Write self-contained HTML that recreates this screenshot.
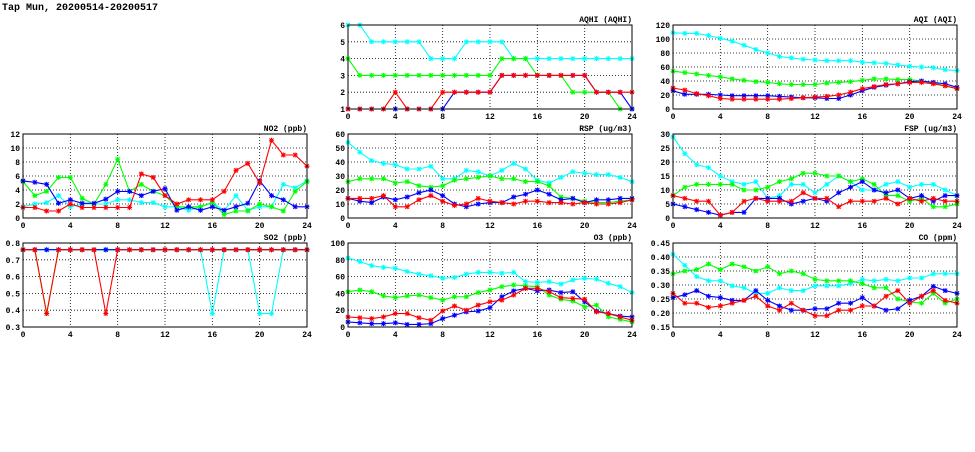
<!DOCTYPE html>
<html><head><meta charset="utf-8"><style>
body{margin:0;background:#fff;width:975px;height:447px;overflow:hidden}
svg{font-family:"Liberation Mono","DejaVu Sans Mono",monospace}
</style></head><body>
<svg id="chart" width="975" height="447" viewBox="0 0 975 447" xmlns="http://www.w3.org/2000/svg">
<text x="2" y="10" font-size="10" font-weight="bold">Tap Mun, 20200514-20200517</text>
</svg>
<script>
const hours=[0,1,2,3,4,5,6,7,8,9,10,11,12,13,14,15,16,17,18,19,20,21,22,23,24];
const xTicks=[0,4,8,12,16,20,24];
const seriesColors=["#00ffff","#00ff00","#0000ff","#ff0000"];
const seriesNames=["cyan","green","blue","red"];

const aqhiTicks=[1,2,3,4,5,6];
const aqhiCyan=[6,6,5,5,5,5,5,4,4,4,5,5,5,5,4,4,4,4,4,4,4,4,4,4,4];
const aqhiGreen=[4,3,3,3,3,3,3,3,3,3,3,3,3,4,4,4,3,3,3,2,2,2,2,1,1];
const aqhiBlue=[1,1,1,1,1,1,1,1,1,2,2,2,2,3,3,3,3,3,3,3,3,2,2,2,1];
const aqhiRed=[1,1,1,1,2,1,1,1,2,2,2,2,2,3,3,3,3,3,3,3,3,2,2,2,2];

const aqiTicks=[0,20,40,60,80,100,120];
const aqiCyan=[109,108,108,105,101,97,91,85,80,75,73,71,70,69,69,69,67,66,65,63,61,60,59,56,55];
const aqiGreen=[54,52,50,48,46,43,41,39,38,36,35,35,35,37,38,39,41,43,43,42,42,40,37,33,29];
const aqiBlue=[26,21,21,21,20,19,19,19,19,18,17,16,16,15,15,20,26,31,34,36,39,40,38,36,31];
const aqiRed=[30,27,22,19,15,14,14,14,14,14,15,16,17,18,20,24,29,32,35,36,38,38,36,33,29];

const no2Ticks=[0,2,4,6,8,10,12];
const no2Cyan=[1.6,2,2.2,3.2,1.6,2,2,2,2.6,2.6,2.2,2.2,1.6,1.6,1.1,1.6,2.2,1.1,3.2,1.1,1.6,1.6,4.8,4.3,5.3];
const no2Green=[5.2,3.2,3.8,5.8,5.8,2.8,2,4.8,8.4,3.8,4.8,3.8,3.2,1.6,1.6,1.6,2.2,0.5,1,1,2,1.6,1,3.8,5.2];
const no2Blue=[5.3,5.1,4.8,2.1,2.6,2.1,2.1,2.7,3.8,3.8,3.2,3.8,4.2,1.1,1.6,1.1,1.6,1.1,1.6,2.1,5.3,3.2,2.6,1.6,1.6];
const no2Red=[1.5,1.5,1,1,2,1.5,1.5,1.5,1.5,1.5,6.3,5.8,3.2,2,2.6,2.6,2.6,3.8,6.8,7.8,5,11.1,9,9,7.4];

const rspTicks=[0,10,20,30,40,50,60];
const rspCyan=[54,47,41,39,38,35,35,37,28,28,34,33,30,34,39,35,27,25,29,33,32,31,31,29,26];
const rspGreen=[26,28,28,28,25,26,23,22,23,27,28,29,30,28,28,26,26,23,15,14,12,11,11,12,13];
const rspBlue=[14,12,11,15,13,15,18,20,16,10,8,10,11,11,15,17,20,17,13,14,11,13,13,14,14];
const rspRed=[14,14,14,16,8,8,13,16,12,9,10,14,12,11,10,12,12,11,11,10,11,10,10,11,13];

const fspTicks=[0,5,10,15,20,25,30];
const fspCyan=[29,23,19,18,15,13,12,13,7,8,12,12,9,12,15,13,10,10,12,13,11,12,12,10,8];
const fspGreen=[8,11,12,12,12,12,10,10,11,13,14,16,16,15,15,13,14,12,8,8,6,7,4,4,5];
const fspBlue=[5,4,3,2,1,2,2,7,7,7,5,6,7,6,9,11,13,10,9,10,7,8,6,8,8];
const fspRed=[8,7,6,6,1,2,6,7,6,6,6,9,7,7,4,6,6,6,7,5,7,6,7,6,6];

const so2Ticks=[0.3,0.4,0.5,0.6,0.7,0.8];
const so2Cyan=[0.76,0.76,0.76,0.76,0.76,0.76,0.76,0.76,0.76,0.76,0.76,0.76,0.76,0.76,0.76,0.76,0.38,0.76,0.76,0.76,0.38,0.38,0.76,0.76,0.76];
const so2Green=[0.76,0.76,0.38,0.76,0.76,0.76,0.76,0.76,0.76,0.76,0.76,0.76,0.76,0.76,0.76,0.76,0.76,0.76,0.76,0.76,0.76,0.76,0.76,0.76,0.76];
const so2Blue=[0.76,0.76,0.76,0.76,0.76,0.76,0.76,0.76,0.76,0.76,0.76,0.76,0.76,0.76,0.76,0.76,0.76,0.76,0.76,0.76,0.76,0.76,0.76,0.76,0.76];
const so2Red=[0.76,0.76,0.38,0.76,0.76,0.76,0.76,0.38,0.76,0.76,0.76,0.76,0.76,0.76,0.76,0.76,0.76,0.76,0.76,0.76,0.76,0.76,0.76,0.76,0.76];

const o3Ticks=[0,20,40,60,80,100];
const o3Cyan=[82,78,73,71,70,66,63,61,58,59,63,65,65,64,65,54,53,54,51,56,58,57,52,48,41];
const o3Green=[42,44,42,37,35,37,38,35,32,36,36,41,44,48,50,49,48,38,33,31,24,26,12,9,6];
const o3Blue=[6,5,4,4,5,3,3,4,10,14,18,19,23,36,43,46,43,44,41,42,30,19,16,13,12];
const o3Red=[12,11,10,12,16,16,11,8,19,25,20,26,30,32,38,46,46,42,35,34,33,18,16,12,8];

const coTicks=[0.15,0.2,0.25,0.3,0.35,0.4,0.45];
const coCyan=[0.41,0.37,0.33,0.315,0.315,0.297,0.29,0.27,0.27,0.29,0.28,0.28,0.297,0.297,0.297,0.305,0.32,0.315,0.32,0.315,0.325,0.325,0.34,0.34,0.34];
const coGreen=[0.34,0.35,0.355,0.375,0.355,0.375,0.365,0.35,0.365,0.34,0.35,0.34,0.32,0.315,0.315,0.315,0.305,0.29,0.29,0.25,0.24,0.235,0.27,0.235,0.25];
const coBlue=[0.255,0.265,0.28,0.26,0.255,0.245,0.245,0.28,0.245,0.225,0.21,0.21,0.215,0.215,0.235,0.235,0.255,0.225,0.21,0.215,0.245,0.26,0.295,0.28,0.27];
const coRed=[0.27,0.235,0.235,0.22,0.225,0.235,0.245,0.26,0.225,0.21,0.235,0.21,0.19,0.19,0.21,0.21,0.225,0.225,0.26,0.28,0.235,0.26,0.28,0.245,0.235];

const NS="http://www.w3.org/2000/svg";
const svg=document.getElementById("chart");
function mk(tag,attrs,parent){const e=document.createElementNS(NS,tag);for(const k in attrs)e.setAttribute(k,attrs[k]);(parent||svg).appendChild(e);return e;}

function panel(key,title,x0,y0,ticks,series,dec){
  const W=284,H=84;
  const ymin=ticks[0],ymax=ticks[ticks.length-1];
  const xs=v=>x0+v/24*W;
  const ys=v=>y0+H-(v-ymin)/(ymax-ymin)*H;
  const g=mk("g",{});
  
  
  xTicks.forEach(t=>{
    if(t>0&&t<24){const l=mk("line",{x1:xs(t),x2:xs(t),y1:y0,y2:y0+H,stroke:"#000","stroke-width":0.8,"stroke-dasharray":"1,2"},g);
    }
    const tx=mk("text",{x:xs(t),y:y0+H+10,"font-size":8,"font-weight":"bold","text-anchor":"middle"},g);
    
    tx.textContent=t;
  });
  ticks.forEach(t=>{
    if(t>ymin&&t<ymax){const l=mk("line",{x1:x0,x2:x0+W,y1:ys(t),y2:ys(t),stroke:"#000","stroke-width":0.8,"stroke-dasharray":"1,2"},g);
    }
    const tx=mk("text",{x:x0-3,y:ys(t)+3,"font-size":8,"font-weight":"bold","text-anchor":"end"},g);
    
    tx.textContent=t.toFixed(dec);
  });
  series.forEach((vals,si)=>{
    const c=seriesColors[si];
    const pts=hours.map((h,i)=>xs(h)+","+ys(vals[i])).join(" ");
    const pl=mk("polyline",{points:pts,fill:"none",stroke:c,"stroke-width":1.1},g);
    
    
    hours.forEach((h,i)=>{
      const cx=xs(h),cy=ys(vals[i]);
      const m=mk("path",{d:`M${cx-2},${cy-2}L${cx+2},${cy+2}M${cx-2},${cy+2}L${cx+2},${cy-2}M${cx},${cy-2.5}L${cx},${cy+2.5}M${cx-2.5},${cy}L${cx+2.5},${cy}`,stroke:c,"stroke-width":1,fill:"none"},g);
      
      
    });
  });
  const fr=mk("rect",{x:x0,y:y0,width:W,height:H,fill:"none",stroke:"#000","stroke-width":1},g);
  
  const tt=mk("text",{x:x0+W,y:y0-3,"font-size":8,"font-weight":"bold","text-anchor":"end"},g);
  
  tt.textContent=title;
}
panel("aqhi","AQHI (AQHI)",348,25,aqhiTicks,[aqhiCyan,aqhiGreen,aqhiBlue,aqhiRed],0);
panel("aqi","AQI (AQI)",673,25,aqiTicks,[aqiCyan,aqiGreen,aqiBlue,aqiRed],0);
panel("no2","NO2 (ppb)",23,134,no2Ticks,[no2Cyan,no2Green,no2Blue,no2Red],0);
panel("rsp","RSP (ug/m3)",348,134,rspTicks,[rspCyan,rspGreen,rspBlue,rspRed],0);
panel("fsp","FSP (ug/m3)",673,134,fspTicks,[fspCyan,fspGreen,fspBlue,fspRed],0);
panel("so2","SO2 (ppb)",23,243,so2Ticks,[so2Cyan,so2Green,so2Blue,so2Red],1);
panel("o3","O3 (ppb)",348,243,o3Ticks,[o3Cyan,o3Green,o3Blue,o3Red],0);
panel("co","CO (ppm)",673,243,coTicks,[coCyan,coGreen,coBlue,coRed],2);
</script>
</body></html>
